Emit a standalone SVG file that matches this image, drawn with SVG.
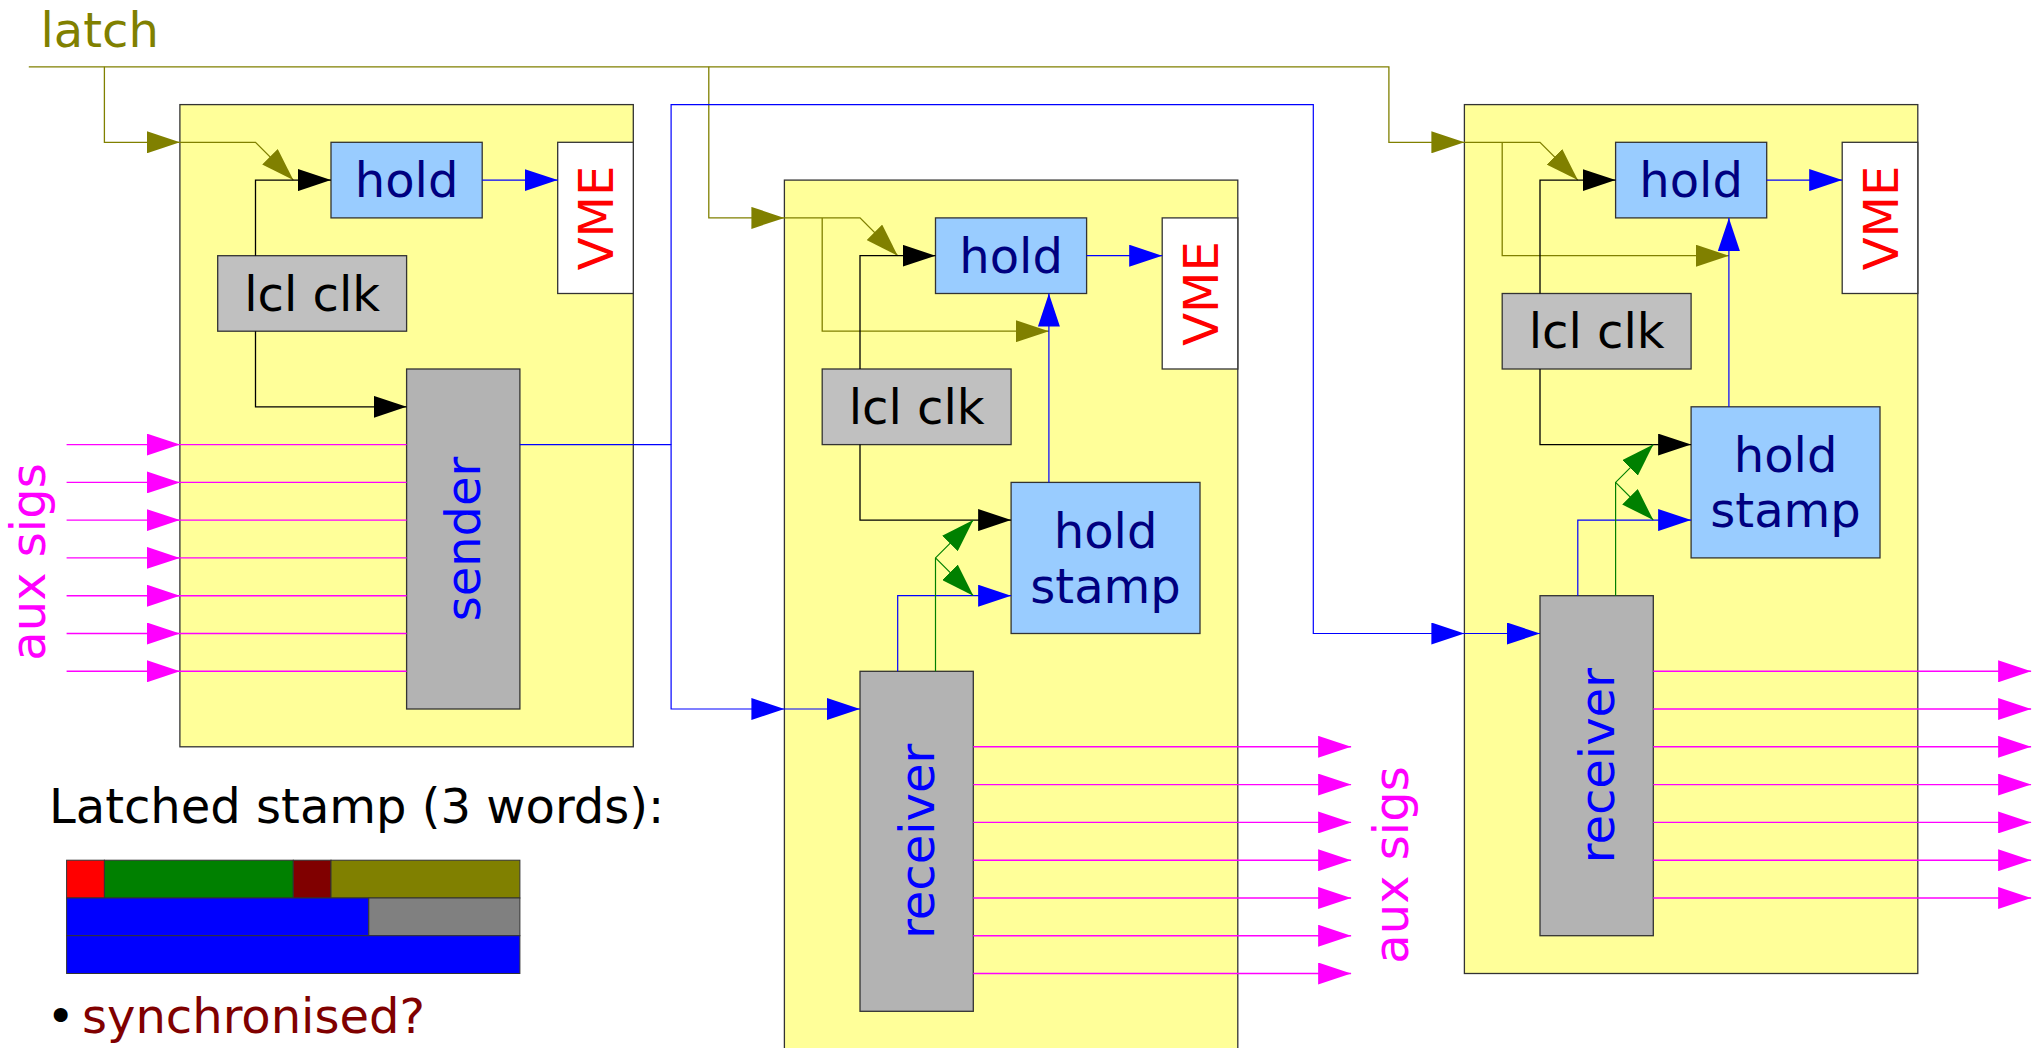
<svg xmlns="http://www.w3.org/2000/svg" width="2034" height="1048" viewBox="0 0 2034 1048">
<defs>
<style>
text{font-family:"DejaVu Sans","Liberation Sans",sans-serif;font-size:48px}
.panel{fill:#ffff99;stroke:#333;stroke-width:1.3}
.hold{fill:#99ccff;stroke:#333;stroke-width:1.3}
.clk{fill:#c0c0c0;stroke:#333;stroke-width:1.3}
.txrx{fill:#b3b3b3;stroke:#333;stroke-width:1.3}
.vme{fill:#ffffff;stroke:#333;stroke-width:1.3}
.cell{stroke:#333;stroke-width:1}
.ol{fill:none;stroke:#808000;stroke-width:1.3}
.bk{fill:none;stroke:#000;stroke-width:1.3}
.bl{fill:none;stroke:#0000ff;stroke-width:1.2}
.gr{fill:none;stroke:#008000;stroke-width:1.2}
.mg{fill:none;stroke:#ff00ff;stroke-width:1.4}
.navy{fill:#000080}
.blue{fill:#0000ff}
.red{fill:#ff0000}
.mag{fill:#ff00ff}
</style>
<marker id="aOl" markerUnits="userSpaceOnUse" markerWidth="34" markerHeight="22" refX="33" refY="11" orient="auto"><path d="M0,0 L33,11 L0,22 z" fill="#808000"/></marker>
<marker id="aBk" markerUnits="userSpaceOnUse" markerWidth="34" markerHeight="22" refX="33" refY="11" orient="auto"><path d="M0,0 L33,11 L0,22 z" fill="#000"/></marker>
<marker id="aBl" markerUnits="userSpaceOnUse" markerWidth="34" markerHeight="22" refX="33" refY="11" orient="auto"><path d="M0,0 L33,11 L0,22 z" fill="#0000ff"/></marker>
<marker id="aGr" markerUnits="userSpaceOnUse" markerWidth="34" markerHeight="22" refX="33" refY="11" orient="auto"><path d="M0,0 L33,11 L0,22 z" fill="#008000"/></marker>
<marker id="aMg" markerUnits="userSpaceOnUse" markerWidth="34" markerHeight="22" refX="33" refY="11" orient="auto"><path d="M0,0 L33,11 L0,22 z" fill="#ff00ff"/></marker>
</defs>
<rect width="2034" height="1048" fill="#ffffff"/>

<g id="panel1"><rect class="panel" x="179.9" y="104.6" width="453.4" height="642.2"/></g>
<g id="panel2"><rect class="panel" x="784.4" y="180.1" width="453.4" height="880"/></g>
<g id="panel3"><rect class="panel" x="1464.4" y="104.6" width="453.4" height="868.9"/></g>

<g id="hold1"><rect class="hold" x="331" y="142.3" width="151.2" height="75.6"/><text class="navy" x="406.6" y="197" text-anchor="middle">hold</text></g>
<g id="vme1"><rect class="vme" x="557.7" y="142.3" width="75.6" height="151.2"/><text class="red" transform="translate(595.5,218) rotate(-90)" x="0" y="17.5" text-anchor="middle">VME</text></g>
<g id="lclclk1"><rect class="clk" x="217.7" y="255.7" width="188.9" height="75.5"/><text x="312.1" y="310.5" text-anchor="middle">lcl clk</text></g>
<g id="sender"><rect class="txrx" x="406.6" y="369" width="113.3" height="340"/><text class="blue" transform="translate(463.3,539) rotate(-90)" x="0" y="17" text-anchor="middle">sender</text></g>

<g id="hold2"><rect class="hold" x="935.5" y="217.9" width="151.1" height="75.6"/><text class="navy" x="1011.1" y="272.7" text-anchor="middle">hold</text></g>
<g id="vme2"><rect class="vme" x="1162.2" y="217.9" width="75.6" height="151.1"/><text class="red" transform="translate(1200,293.5) rotate(-90)" x="0" y="17.5" text-anchor="middle">VME</text></g>
<g id="lclclk2"><rect class="clk" x="822.2" y="369" width="188.9" height="75.6"/><text x="916.7" y="424" text-anchor="middle">lcl clk</text></g>
<g id="holdstamp2"><rect class="hold" x="1011.1" y="482.4" width="188.9" height="151.1"/><text class="navy" x="1105.6" y="548" text-anchor="middle">hold</text><text class="navy" x="1105.6" y="603" text-anchor="middle">stamp</text></g>
<g id="receiver2"><rect class="txrx" x="860" y="671.3" width="113.3" height="340"/><text class="blue" transform="translate(916.7,841.3) rotate(-90)" x="0" y="17" text-anchor="middle">receiver</text></g>

<g id="hold3"><rect class="hold" x="1615.6" y="142.3" width="151.1" height="75.6"/><text class="navy" x="1691.1" y="197" text-anchor="middle">hold</text></g>
<g id="vme3"><rect class="vme" x="1842.2" y="142.3" width="75.6" height="151.2"/><text class="red" transform="translate(1880,218) rotate(-90)" x="0" y="17.5" text-anchor="middle">VME</text></g>
<g id="lclclk3"><rect class="clk" x="1502.2" y="293.5" width="188.9" height="75.5"/><text x="1596.7" y="348.3" text-anchor="middle">lcl clk</text></g>
<g id="holdstamp3"><rect class="hold" x="1691.1" y="406.8" width="188.9" height="151.1"/><text class="navy" x="1785.6" y="472.4" text-anchor="middle">hold</text><text class="navy" x="1785.6" y="527.4" text-anchor="middle">stamp</text></g>
<g id="receiver3"><rect class="txrx" x="1540" y="595.7" width="113.3" height="340"/><text class="blue" transform="translate(1596.7,765.7) rotate(-90)" x="0" y="17" text-anchor="middle">receiver</text></g>

<g id="connectors">
<path class="ol" d="M28.8,66.8 H1388.9 V142.3 H1464.4" marker-end="url(#aOl)"/>
<path class="ol" d="M104.4,66.8 V142.3 H179.9" marker-end="url(#aOl)"/>
<path class="ol" d="M708.8,66.8 V217.9 H784.4" marker-end="url(#aOl)"/>
<path class="ol" d="M179.9,142.3 H255.5 L293.3,180.1" marker-end="url(#aOl)"/>
<path class="ol" d="M784.4,217.9 H860 L897.7,255.7" marker-end="url(#aOl)"/>
<path class="ol" d="M822.2,217.9 V331.2 H1048.9" marker-end="url(#aOl)"/>
<path class="ol" d="M1464.4,142.3 H1540 L1577.8,180.1" marker-end="url(#aOl)"/>
<path class="ol" d="M1502.2,142.3 V255.7 H1728.9" marker-end="url(#aOl)"/>

<path class="bk" d="M255.5,255.7 V180.1 H331" marker-end="url(#aBk)"/>
<path class="bk" d="M255.5,331.2 V406.8 H406.6" marker-end="url(#aBk)"/>
<path class="bk" d="M860,369 V255.7 H935.5" marker-end="url(#aBk)"/>
<path class="bk" d="M860,444.6 V520.1 H1011.1" marker-end="url(#aBk)"/>
<path class="bk" d="M1540,293.5 V180.1 H1615.6" marker-end="url(#aBk)"/>
<path class="bk" d="M1540,369 V444.6 H1691.1" marker-end="url(#aBk)"/>

<path class="bl" d="M482.2,180.1 H557.7" marker-end="url(#aBl)"/>
<path class="bl" d="M1086.6,255.7 H1162.2" marker-end="url(#aBl)"/>
<path class="bl" d="M1766.7,180.1 H1842.2" marker-end="url(#aBl)"/>
<path class="bl" d="M519.9,444.6 H671.1 V709 H784.4" marker-end="url(#aBl)"/>
<path class="bl" d="M671.1,444.6 V104.6 H1313.3 V633.5 H1464.4" marker-end="url(#aBl)"/>
<path class="bl" d="M784.4,709 H860" marker-end="url(#aBl)"/>
<path class="bl" d="M1464.4,633.5 H1540" marker-end="url(#aBl)"/>
<path class="bl" d="M1048.9,482.4 V293.5" marker-end="url(#aBl)"/>
<path class="bl" d="M1728.9,406.8 V217.9" marker-end="url(#aBl)"/>
<path class="bl" d="M897.7,671.3 V595.7 H1011.1" marker-end="url(#aBl)"/>
<path class="bl" d="M1577.8,595.7 V520.1 H1691.1" marker-end="url(#aBl)"/>

<path class="gr" d="M935.5,671.3 V557.9 L973.3,520.1" marker-end="url(#aGr)"/>
<path class="gr" d="M935.5,557.9 L973.3,595.7" marker-end="url(#aGr)"/>
<path class="gr" d="M1615.6,595.7 V482.4 L1653.3,444.6" marker-end="url(#aGr)"/>
<path class="gr" d="M1615.6,482.4 L1653.3,520.1" marker-end="url(#aGr)"/>

<g class="mg">
<path d="M66.6,444.6 H179.9" marker-end="url(#aMg)"/><path d="M179.9,444.6 H406.6"/>
<path d="M66.6,482.4 H179.9" marker-end="url(#aMg)"/><path d="M179.9,482.4 H406.6"/>
<path d="M66.6,520.1 H179.9" marker-end="url(#aMg)"/><path d="M179.9,520.1 H406.6"/>
<path d="M66.6,557.9 H179.9" marker-end="url(#aMg)"/><path d="M179.9,557.9 H406.6"/>
<path d="M66.6,595.7 H179.9" marker-end="url(#aMg)"/><path d="M179.9,595.7 H406.6"/>
<path d="M66.6,633.5 H179.9" marker-end="url(#aMg)"/><path d="M179.9,633.5 H406.6"/>
<path d="M66.6,671.3 H179.9" marker-end="url(#aMg)"/><path d="M179.9,671.3 H406.6"/>

<path d="M973.3,746.8 H1351.1" marker-end="url(#aMg)"/>
<path d="M973.3,784.6 H1351.1" marker-end="url(#aMg)"/>
<path d="M973.3,822.4 H1351.1" marker-end="url(#aMg)"/>
<path d="M973.3,860.2 H1351.1" marker-end="url(#aMg)"/>
<path d="M973.3,898 H1351.1" marker-end="url(#aMg)"/>
<path d="M973.3,935.7 H1351.1" marker-end="url(#aMg)"/>
<path d="M973.3,973.5 H1351.1" marker-end="url(#aMg)"/>

<path d="M1653.3,671.3 H2031.1" marker-end="url(#aMg)"/>
<path d="M1653.3,709 H2031.1" marker-end="url(#aMg)"/>
<path d="M1653.3,746.8 H2031.1" marker-end="url(#aMg)"/>
<path d="M1653.3,784.6 H2031.1" marker-end="url(#aMg)"/>
<path d="M1653.3,822.4 H2031.1" marker-end="url(#aMg)"/>
<path d="M1653.3,860.2 H2031.1" marker-end="url(#aMg)"/>
<path d="M1653.3,898 H2031.1" marker-end="url(#aMg)"/>
</g>
</g>

<g id="labels">
<text x="40.5" y="46.7" fill="#808000">latch</text>
<text class="mag" transform="translate(45,562) rotate(-90)" x="0" y="0" text-anchor="middle">aux sigs</text>
<text class="mag" transform="translate(1408,865) rotate(-90)" x="0" y="0" text-anchor="middle">aux sigs</text>
<text x="49" y="822.7">Latched stamp (3 words):</text>
<text x="46.6" y="1033">•</text>
<text x="82" y="1033" fill="#800000">synchronised?</text>
</g>

<g id="stamp-table">
<rect class="cell" x="66.6" y="860.2" width="37.8" height="37.8" fill="#ff0000"/>
<rect class="cell" x="104.4" y="860.2" width="188.9" height="37.8" fill="#008000"/>
<rect class="cell" x="293.3" y="860.2" width="37.7" height="37.8" fill="#800000"/>
<rect class="cell" x="331" y="860.2" width="188.9" height="37.8" fill="#808000"/>
<rect class="cell" x="66.6" y="898" width="302.2" height="37.7" fill="#0000ff"/>
<rect class="cell" x="368.8" y="898" width="151.1" height="37.7" fill="#808080"/>
<rect class="cell" x="66.6" y="935.7" width="453.3" height="37.8" fill="#0000ff"/>
</g>
</svg>
